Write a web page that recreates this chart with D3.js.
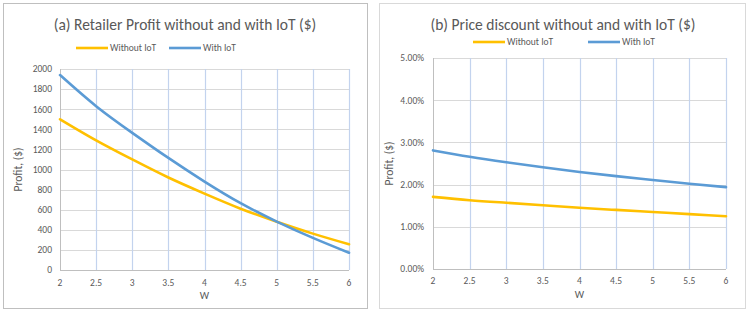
<!DOCTYPE html>
<html><head><meta charset="utf-8">
<script src="https://cdn.jsdelivr.net/npm/d3@7/dist/d3.min.js"></script>
<style>
body{margin:0;background:#fff;}
svg{display:block;font-family:Carlito,Lato,"Liberation Sans",sans-serif;}
</style></head><body>
<svg id="c" width="750" height="313"></svg>
<script>
const wValues = [2, 2.5, 3, 3.5, 4, 4.5, 5, 5.5, 6];
const xTicks = [2, 2.5, 3, 3.5, 4, 4.5, 5, 5.5, 6];
const profitWithout = [1500, 1290, 1100, 920, 760, 610, 480, 362, 256];
const profitWith = [1940, 1630, 1365, 1115, 880, 665, 482, 320, 172];
const discountWithout = [0.0171, 0.0163, 0.0157, 0.0151, 0.0145, 0.0140, 0.0135, 0.0130, 0.0125];
const discountWith = [0.0281, 0.0266, 0.0253, 0.0241, 0.0230, 0.0220, 0.0211, 0.0202, 0.0194];
const profitTicks = [0, 200, 400, 600, 800, 1000, 1200, 1400, 1600, 1800, 2000];
const discountTicks = [0, 0.01, 0.02, 0.03, 0.04, 0.05];
const seriesNames = ["Without IoT", "With IoT"];
const colors = ["#FFC000", "#5B9BD5"];

const svg = d3.select("#c");
const textColor = "#595959";

function panel(cfg) {
  const g = svg.append("g");
  g.append("rect").attr("x", cfg.box[0]).attr("y", cfg.box[1]).attr("width", cfg.box[2]).attr("height", cfg.box[3])
    .attr("fill", "#fff").attr("stroke", cfg.borderColor).attr("stroke-width", 1);
  const x = d3.scaleLinear().domain([2, 6]).range([cfg.plot[0], cfg.plot[1]]);
  const y = d3.scaleLinear().domain(cfg.yDomain).range([cfg.plot[3], cfg.plot[2]]);

  g.append("g").selectAll("line").data(cfg.yTicks).join("line")
    .attr("x1", x(2)).attr("x2", x(6)).attr("y1", d => Math.round(y(d)) + 0.5).attr("y2", d => Math.round(y(d)) + 0.5)
    .attr("stroke", "#d9d9d9").attr("stroke-width", 1);
  g.append("g").selectAll("line").data(xTicks.slice(1)).join("line")
    .attr("x1", d => Math.round(x(d)) + 0.5).attr("x2", d => Math.round(x(d)) + 0.5)
    .attr("y1", y(cfg.yDomain[1])).attr("y2", y(0))
    .attr("stroke", "#C3D3EE").attr("stroke-width", 1.2);
  g.append("line").attr("x1", Math.round(x(2)) + 0.5).attr("x2", Math.round(x(2)) + 0.5)
    .attr("y1", y(cfg.yDomain[1])).attr("y2", y(0)).attr("stroke", "#bfbfbf");
  g.append("line").attr("x1", x(2)).attr("x2", x(6)).attr("y1", Math.round(y(0)) + 0.5).attr("y2", Math.round(y(0)) + 0.5)
    .attr("stroke", "#bfbfbf");

  g.append("g").selectAll("text").data(cfg.yTicks).join("text")
    .attr("x", cfg.yLabelX).attr("y", d => y(d)).attr("dy", "0.35em").attr("text-anchor", "end")
    .attr("font-size", 9.5).attr("fill", textColor).text(cfg.yFormat);
  g.append("g").selectAll("text").data(xTicks).join("text")
    .attr("x", d => x(d)).attr("y", cfg.xLabelY).attr("text-anchor", "middle")
    .attr("font-size", 9.5).attr("fill", textColor).text(d => d);

  g.append("text").attr("x", x(4)).attr("y", cfg.wY).attr("text-anchor", "middle")
    .attr("font-size", 10.5).attr("fill", textColor).text("W");
  g.append("text").attr("transform", `translate(${cfg.yTitleX},${(y(0) + y(cfg.yDomain[1])) / 2}) rotate(-90)`)
    .attr("text-anchor", "middle").attr("font-size", 11.5).attr("fill", textColor).text("Profit, ($)");

  g.append("text").attr("x", cfg.titleX).attr("y", 30).attr("text-anchor", "middle")
    .attr("font-size", 15.5).attr("fill", textColor).text(cfg.title);

  const line = d3.line().x((d, i) => x(wValues[i])).y(d => y(d)).curve(d3.curveNatural);
  cfg.series.forEach((s, k) => {
    g.append("path").attr("d", line(s)).attr("fill", "none").attr("stroke", colors[k])
      .attr("stroke-width", 2.6).attr("stroke-linecap", "round");
  });

  cfg.legend.forEach((lx, k) => {
    g.append("line").attr("x1", lx).attr("x2", lx + 32).attr("y1", cfg.legendY).attr("y2", cfg.legendY)
      .attr("stroke", colors[k]).attr("stroke-width", 2.6);
    g.append("text").attr("x", lx + 34).attr("y", cfg.legendY).attr("dy", "0.35em")
      .attr("font-size", 9.5).attr("fill", textColor).text(seriesNames[k]);
  });
}

panel({
  box: [3.5, 3.5, 364, 305], borderColor: "#bfbfbf",
  plot: [60, 349, 69, 270], yDomain: [0, 2000], yTicks: profitTicks,
  yFormat: d => d, yLabelX: 52, xLabelY: 286, wY: 299, yTitleX: 22,
  title: "(a) Retailer Profit without and with IoT ($)", titleX: 185,
  series: [profitWithout, profitWith], legend: [76, 169], legendY: 48
});
panel({
  box: [379.5, 3.5, 366, 305], borderColor: "#d9d9d9",
  plot: [433, 726, 58, 269], yDomain: [0, 0.05], yTicks: discountTicks,
  yFormat: d3.format(".2%"), yLabelX: 424, xLabelY: 284, wY: 298, yTitleX: 393,
  title: "(b) Price discount without and with IoT ($)", titleX: 563,
  series: [discountWithout, discountWith], legend: [473, 588], legendY: 42
});
</script>
</body></html>
